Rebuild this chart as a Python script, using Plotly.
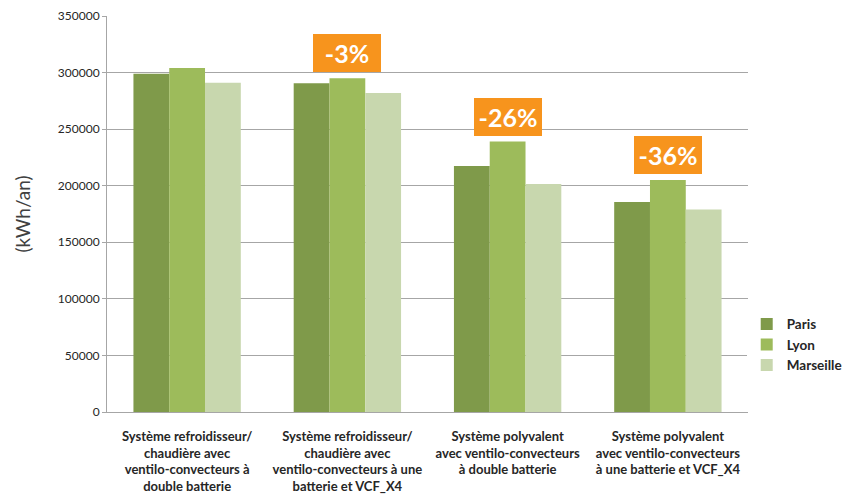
import plotly.graph_objects as go

# Annual energy consumption per HVAC system and city
categories = [
    "Système refroidisseur/<br>chaudière avec<br>ventilo-convecteurs à<br>double batterie",
    "Système refroidisseur/<br>chaudière avec<br>ventilo-convecteurs à une<br>batterie et VCF_X4",
    "Système polyvalent<br>avec ventilo-convecteurs<br>à double batterie",
    "Système polyvalent<br>avec ventilo-convecteurs<br>à une batterie et VCF_X4",
]
paris = [299000, 290500, 217500, 185500]
lyon = [304000, 295000, 239000, 205000]
marseille = [291000, 282000, 201500, 179000]

# Savings compared to the reference system (first category)
savings_labels = [None, "-3%", "-26%", "-36%"]

y_ticks = [0, 50000, 100000, 150000, 200000, 250000, 300000, 350000]

series = [
    ("Paris", paris, "#7f9a4a"),
    ("Lyon", lyon, "#9dbb5b"),
    ("Marseille", marseille, "#c8d7ae"),
]

font_family = "Lato, 'Open Sans', sans-serif"

fig = go.Figure()
for name, values, color in series:
    fig.add_trace(go.Bar(
        name=name,
        x=categories,
        y=values,
        marker=dict(color=color, line=dict(width=0)),
    ))

for cat, val, label in zip(categories, lyon, savings_labels):
    if label is None:
        continue
    fig.add_annotation(
        x=cat, y=val, xref="x", yref="y",
        text=f"<b>{label}</b>",
        showarrow=False,
        yanchor="bottom",
        yshift=6,
        font=dict(family=font_family, size=25, color="white"),
        bgcolor="#f7941d",
        bordercolor="#f7941d",
        borderwidth=1,
        borderpad=3,
        width=60,
        height=30,
    )

fig.update_layout(
    width=853,
    height=499,
    margin=dict(l=107, r=105, t=16, b=87, autoexpand=False),
    paper_bgcolor="white",
    plot_bgcolor="white",
    barmode="group",
    bargap=0.33,
    bargroupgap=0,
    font=dict(family=font_family, color="#262626"),
    showlegend=True,
    legend=dict(
        x=0.998, xanchor="left",
        y=0.17, yanchor="middle",
        font=dict(family=font_family, size=13.5, color="#262626", weight="bold"),
        tracegroupgap=2,
        itemwidth=30,
    ),
)

fig.update_yaxes(
    range=[0, 350000],
    tickvals=y_ticks,
    ticktext=[str(v) for v in y_ticks],
    automargin=False,
    showgrid=True,
    gridcolor="#a6a6a6",
    gridwidth=1,
    showline=True,
    linecolor="#a6a6a6",
    linewidth=1,
    ticks="outside",
    ticklen=4,
    tickcolor="#a6a6a6",
    tickfont=dict(family=font_family, size=12, color="#262626"),
    zeroline=False,
    title=dict(text="(kWh/an)", font=dict(family=font_family, size=19, color="#404040"), standoff=22),
)

fig.update_xaxes(
    automargin=False,
    showline=True,
    linecolor="#a6a6a6",
    linewidth=1,
    ticks="",
    ticklabelstandoff=12,
    tickfont=dict(family=font_family, size=13, color="#262626", weight="bold"),
    tickangle=0,
)

fig.write_html("out.html")
